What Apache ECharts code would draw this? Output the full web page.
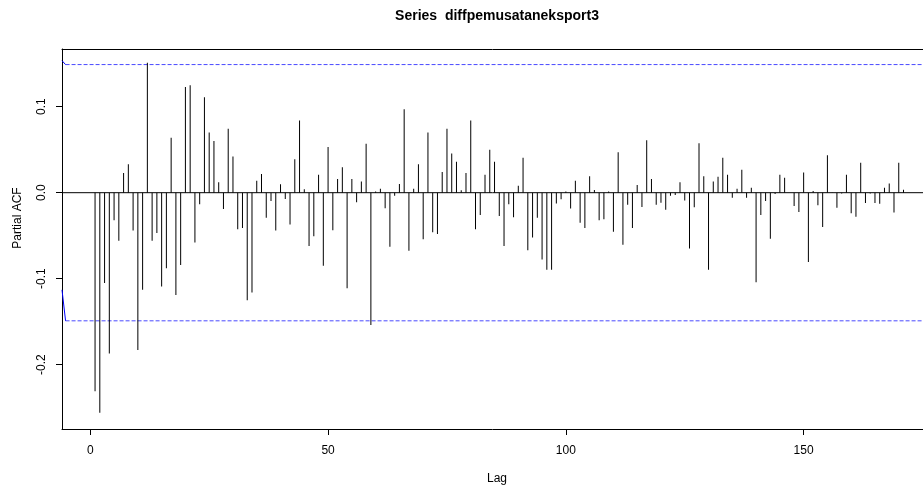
<!DOCTYPE html>
<html>
<head>
<meta charset="utf-8">
<title>Series diffpemusataneksport3</title>
<script src="https://cdn.jsdelivr.net/npm/echarts@6/dist/echarts.min.js"></script>
<style>
  html, body { margin: 0; padding: 0; background: #fff; }
  #chart { width: 923px; height: 487px; }
</style>
</head>
<body>
<div id="chart"></div>
<script>
// Partial autocorrelations, lag 1 .. 171
const pacfValues = [
  -0.231, -0.256, -0.105, -0.187, -0.032, -0.056, 0.023, 0.033, -0.044, -0.183,
  -0.113, 0.151, -0.056, -0.047, -0.109, -0.088, 0.064, -0.119, -0.084, 0.123,
  0.125, -0.058, -0.0135, 0.111, 0.070, 0.060, 0.012, -0.019, 0.0745, 0.042,
  -0.0425, -0.041, -0.125, -0.116, 0.014, 0.0216, -0.029, -0.0097, -0.044, 0.0097,
  -0.0073, -0.037, 0.039, 0.084, 0.004, -0.062, -0.0506, 0.021, -0.085, 0.053,
  -0.0436, 0.016, 0.0297, -0.111, 0.016, -0.011, 0.013, 0.057, -0.154, 0.0015,
  0.0046, -0.018, -0.063, -0.0035, 0.010, 0.097, -0.0676, 0.0046, 0.033, -0.054,
  0.070, -0.046, -0.048, 0.024, 0.0745, 0.0455, 0.036, 0.0027, 0.023, 0.084,
  -0.0425, -0.026, 0.021, 0.050, 0.036, -0.027, -0.062, -0.0135, -0.0286, 0.008,
  0.0405, -0.067, -0.052, -0.029, -0.0776, -0.0895, -0.0895, -0.0127, -0.0077, 0.0015,
  -0.0185, 0.014, -0.035, -0.041, 0.019, 0.003, -0.032, -0.031, 0.0015, -0.0455,
  0.047, -0.0606, -0.014, -0.041, 0.009, -0.0166, 0.061, 0.016, -0.014, -0.0116,
  -0.0197, -0.0035, -0.0027, 0.012, -0.009, -0.065, -0.017, 0.0575, 0.019, -0.0895,
  0.013, 0.0185, 0.0405, 0.021, -0.006, 0.0046, 0.0266, -0.006, 0.0058, -0.104,
  -0.026, -0.0097, -0.0537, -0.0015, 0.021, 0.0174, 0.0, -0.0154, -0.0224, 0.0235,
  -0.0807, 0.002, -0.0147, -0.040, 0.0436, -0.0005, -0.0174, -0.001, 0.021, -0.024,
  -0.028, 0.0347, -0.012, -0.001, -0.012, -0.013, 0.0058, 0.0108, -0.023, 0.0347,
  0.0035
];
const lags = pacfValues.map((_, i) => i + 1);

// Axis ticks
const lagTicks = [0, 50, 100, 150];
const acfTicks = [-0.2, -0.1, 0.0, 0.1];

// 95% significance bound
const confLimit = 0.149;

// Short solid stubs where the bound lines begin at the left frame
const boundStubUpper = [[-5.95, 0.1535], [-5.2, 0.149]];
const boundStubLower = [[-5.95, -0.113], [-5.2, -0.149]];

// Axis extents
const lagRange = [-5.95, 175.1];
const acfRange = [-0.2748, 0.1671];
const boundStart = -5.2;

const FONT = '"Liberation Sans", Arial, Helvetica, sans-serif';
const BOUND_BLUE = '#4a4aff';

const chart = echarts.init(document.getElementById('chart'), null, { renderer: 'canvas' });

// horizontal reference line across the plot
function hLine(name, x0, value, color, type) {
  return {
    name: name,
    type: 'line',
    data: [[x0, value], [lagRange[1], value]],
    symbol: 'none',
    silent: true,
    z: 1,
    lineStyle: { color: color, type: type, width: 1 },
    emphasis: { disabled: true }
  };
}

function stub(name, pts) {
  return {
    name: name,
    type: 'line',
    data: pts,
    symbol: 'none',
    silent: true,
    lineStyle: { color: '#0000ff', width: 1 },
    emphasis: { disabled: true }
  };
}

chart.setOption({
  animation: false,
  backgroundColor: '#ffffff',
  grid: { left: 62, right: 0, top: 49, bottom: 58 },
  xAxis: [
    {
      type: 'value',
      position: 'bottom',
      min: lagRange[0],
      max: lagRange[1],
      axisLine: { show: true, onZero: false, lineStyle: { color: '#000', width: 1 } },
      axisTick: { show: true, length: 6, customValues: lagTicks, lineStyle: { color: '#000' } },
      axisLabel: {
        customValues: lagTicks,
        margin: 16,
        fontFamily: FONT, fontSize: 12, color: '#000'
      },
      splitLine: { show: false }
    },
    {
      type: 'value',
      position: 'top',
      min: lagRange[0],
      max: lagRange[1],
      axisLine: { show: true, onZero: false, lineStyle: { color: '#000', width: 1 } },
      axisTick: { show: false },
      axisLabel: { show: false },
      splitLine: { show: false }
    }
  ],
  yAxis: {
    type: 'value',
    min: acfRange[0],
    max: acfRange[1],
    axisLine: { show: true, onZero: false, lineStyle: { color: '#000', width: 1 } },
    axisTick: { show: true, length: 6, customValues: acfTicks, lineStyle: { color: '#000' } },
    axisLabel: {
      customValues: acfTicks,
      rotate: 90,
      margin: 14,
      formatter: v => v.toFixed(1),
      fontFamily: FONT, fontSize: 12, color: '#000'
    },
    splitLine: { show: false }
  },
  graphic: [
    {
      type: 'text',
      x: 497,
      y: 16,
      style: {
        text: 'Series  diffpemusataneksport3',
        font: 'bold 14px ' + FONT,
        fill: '#000',
        textAlign: 'center',
        textVerticalAlign: 'middle'
      }
    },
    {
      type: 'text',
      x: 497,
      y: 479,
      style: {
        text: 'Lag',
        font: '12px ' + FONT,
        fill: '#000',
        textAlign: 'center',
        textVerticalAlign: 'middle'
      }
    },
    {
      type: 'text',
      x: 18,
      y: 218,
      rotation: Math.PI / 2,
      style: {
        text: 'Partial ACF',
        font: '12px ' + FONT,
        fill: '#000',
        textAlign: 'center',
        textVerticalAlign: 'middle'
      }
    }
  ],
  series: [
    hLine('zero', lagRange[0], 0, '#000', 'solid'),
    hLine('upperBound', boundStart, confLimit, BOUND_BLUE, [4, 2]),
    hLine('lowerBound', boundStart, -confLimit, BOUND_BLUE, [4, 2]),
    {
      name: 'PACF',
      type: 'bar',
      barWidth: 1,
      data: lags.map((l, i) => [l, pacfValues[i]]),
      itemStyle: { color: '#000' },
      silent: true
    },
    stub('boundStubUpper', boundStubUpper),
    stub('boundStubLower', boundStubLower)
  ]
});
</script>
</body>
</html>
